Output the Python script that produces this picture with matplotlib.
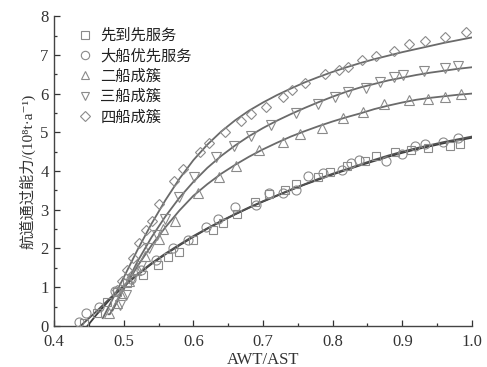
import matplotlib
matplotlib.use('Agg')
import matplotlib.pyplot as plt
from matplotlib.lines import Line2D
from matplotlib.ticker import MultipleLocator, FormatStrFormatter

plt.rcParams['font.family'] = ['Liberation Serif', 'DejaVu Serif', 'Noto Sans CJK SC']

names = ['先到先服务', '大船优先服务', '二船成簇', '三船成簇', '四船成簇']
markers = ['s', 'o', '^', 'v', 'D']

# 散点
sq_x = [0.443, 0.462, 0.476, 0.490, 0.505, 0.527, 0.549, 0.563, 0.580, 0.600, 0.628, 0.642, 0.662, 0.688,
        0.708, 0.731, 0.748, 0.779, 0.796, 0.820, 0.846, 0.863, 0.890, 0.913, 0.937, 0.968, 0.983]
sq_y = [0.07, 0.33, 0.62, 0.88, 1.10, 1.32, 1.57, 1.77, 1.92, 2.22, 2.47, 2.65, 2.90, 3.20,
        3.40, 3.52, 3.66, 3.85, 3.98, 4.13, 4.26, 4.39, 4.49, 4.55, 4.60, 4.64, 4.71]
ci_x = [0.436, 0.446, 0.465, 0.488, 0.510, 0.525, 0.546, 0.571, 0.592, 0.618, 0.635, 0.660, 0.690, 0.709,
        0.729, 0.748, 0.765, 0.786, 0.813, 0.827, 0.838, 0.876, 0.899, 0.919, 0.933, 0.958, 0.980]
ci_y = [0.09, 0.33, 0.50, 0.90, 1.20, 1.45, 1.70, 2.00, 2.23, 2.56, 2.75, 3.07, 3.12, 3.42,
        3.42, 3.52, 3.86, 3.96, 4.02, 4.21, 4.29, 4.26, 4.45, 4.65, 4.69, 4.75, 4.84]
tu_x = [0.479, 0.490, 0.498, 0.508, 0.518, 0.530, 0.551, 0.557, 0.574, 0.606, 0.637, 0.661, 0.695, 0.729,
        0.753, 0.785, 0.815, 0.844, 0.874, 0.909, 0.937, 0.962, 0.985]
tu_y = [0.33, 0.60, 0.85, 1.15, 1.45, 1.80, 2.25, 2.50, 2.72, 3.42, 3.85, 4.12, 4.54, 4.75,
        4.95, 5.12, 5.38, 5.53, 5.72, 5.84, 5.87, 5.91, 6.00]
td_x = [0.494, 0.503, 0.512, 0.525, 0.537, 0.548, 0.560, 0.579, 0.601, 0.633, 0.659, 0.683, 0.712, 0.748,
        0.779, 0.803, 0.822, 0.848, 0.868, 0.888, 0.901, 0.931, 0.961, 0.980]
td_y = [0.54, 0.80, 1.20, 1.55, 2.00, 2.35, 2.75, 3.33, 3.85, 4.37, 4.64, 4.90, 5.18, 5.50,
        5.74, 5.90, 6.05, 6.15, 6.31, 6.44, 6.49, 6.58, 6.66, 6.71]
di_x = [0.490, 0.497, 0.505, 0.513, 0.522, 0.532, 0.540, 0.551, 0.572, 0.585, 0.609, 0.623, 0.646, 0.668,
        0.683, 0.705, 0.729, 0.742, 0.761, 0.789, 0.809, 0.822, 0.842, 0.863, 0.888, 0.909, 0.932, 0.961, 0.991]
di_y = [0.93, 1.15, 1.45, 1.75, 2.13, 2.48, 2.72, 3.15, 3.74, 4.06, 4.49, 4.72, 5.01, 5.30,
        5.48, 5.66, 5.91, 6.10, 6.28, 6.51, 6.62, 6.69, 6.87, 6.98, 7.11, 7.27, 7.37, 7.47, 7.58]

# 拟合曲线
grid = [0.46, 0.48, 0.50, 0.52, 0.54, 0.56, 0.58, 0.60, 0.62, 0.64, 0.66, 0.68, 0.70, 0.72, 0.74,
        0.76, 0.78, 0.80, 0.82, 0.84, 0.86, 0.88, 0.90, 0.92, 0.94, 0.96, 0.98, 1.00]
sq_fit = [0.27, 0.68, 1.02, 1.32, 1.60, 1.85, 2.08, 2.30, 2.51, 2.70, 2.88, 3.05, 3.21, 3.36, 3.51,
          3.65, 3.78, 3.91, 4.03, 4.15, 4.26, 4.37, 4.47, 4.56, 4.64, 4.72, 4.79, 4.86]
ci_fit = [0.36, 0.71, 1.04, 1.34, 1.62, 1.87, 2.10, 2.32, 2.52, 2.71, 2.89, 3.06, 3.22, 3.37, 3.52,
          3.66, 3.80, 3.93, 4.05, 4.17, 4.29, 4.40, 4.50, 4.59, 4.67, 4.75, 4.82, 4.89]
tu_fit = [None, 0.30, 0.95, 1.55, 2.08, 2.55, 2.98, 3.36, 3.66, 3.93, 4.16, 4.37, 4.56, 4.73, 4.89,
          5.03, 5.16, 5.28, 5.39, 5.49, 5.60, 5.69, 5.77, 5.84, 5.89, 5.93, 5.97, 6.00]
td_fit = [None, None, 0.95, 1.67, 2.29, 2.83, 3.31, 3.72, 4.08, 4.39, 4.66, 4.90, 5.11, 5.30, 5.47,
          5.63, 5.78, 5.92, 6.05, 6.16, 6.25, 6.34, 6.41, 6.48, 6.54, 6.59, 6.64, 6.68]
di_fit = [None, 0.55, 1.25, 1.97, 2.64, 3.25, 3.80, 4.28, 4.68, 5.02, 5.31, 5.56, 5.77, 5.96, 6.13,
          6.29, 6.43, 6.56, 6.68, 6.79, 6.89, 6.98, 7.07, 7.15, 7.23, 7.31, 7.38, 7.45]
start_x = [0.448, 0.438, 0.478, 0.484, 0.470]
start_y = [0.0, 0.0, 0.30, 0.40, 0.20]

fig = plt.figure(figsize=(4.87, 3.67), dpi=100)
ax = fig.add_axes([0.111, 0.112, 0.858, 0.844])

pts = [(sq_x, sq_y), (ci_x, ci_y), (tu_x, tu_y), (td_x, td_y), (di_x, di_y)]
fits = [sq_fit, ci_fit, tu_fit, td_fit, di_fit]
line_cols = ['#3c3c3c', '#505050', '#6a6a6a', '#6a6a6a', '#6a6a6a']

for i in range(5):
    gx = [start_x[i]] + [g for g, v in zip(grid, fits[i]) if v is not None and g > start_x[i]]
    gy = [start_y[i]] + [v for g, v in zip(grid, fits[i]) if v is not None and g > start_x[i]]
    ax.plot(gx, gy, color=line_cols[i], lw=1.3, zorder=2)
    ms = 6.5
    if markers[i] == 'D':
        ms = 5.5
    elif markers[i] == 's':
        ms = 6
    ax.plot(pts[i][0], pts[i][1], ls='none', marker=markers[i], ms=ms, mfc='none',
            mec='#8a8a8a', mew=0.8, zorder=3)

handles = [Line2D([], [], ls='none', marker=m, ms=(5 if m == 'D' else 6), mfc='none',
                  mec='#8a8a8a', mew=0.8) for m in markers]
leg = ax.legend(handles, names, loc='upper left', bbox_to_anchor=(0.045, 0.985), frameon=False,
                handlelength=0.8, handletextpad=0.6, labelspacing=0.22, borderaxespad=0,
                prop={'family': ['Noto Sans CJK SC'], 'size': 11})
for t in leg.get_texts():
    t.set_color('#222222')

ax.set_xlim(0.4, 1.0)
ax.set_ylim(0, 8)
ax.xaxis.set_major_locator(MultipleLocator(0.1))
ax.xaxis.set_minor_locator(MultipleLocator(0.05))
ax.yaxis.set_major_locator(MultipleLocator(1))
ax.yaxis.set_minor_locator(MultipleLocator(0.5))
ax.xaxis.set_major_formatter(FormatStrFormatter('%.1f'))
ax.tick_params(which='both', direction='in', labelsize=12, colors='#333333')
ax.tick_params(which='major', length=4, width=0.9)
ax.tick_params(which='minor', length=2.5, width=0.9)
ax.tick_params(axis='x', which='major', pad=6)
ax.tick_params(axis='y', which='major', pad=4)
ax.spines['top'].set_visible(False)
ax.spines['right'].set_visible(False)
for s in ['left', 'bottom']:
    ax.spines[s].set_color('#444444')
    ax.spines[s].set_linewidth(1.0)

ax.set_xlabel('AWT/AST', fontsize=12, color='#333333', labelpad=1)
ax.set_ylabel('航道通过能力/(10⁸t·a⁻¹)', fontsize=11, color='#333333', labelpad=3,
              family=['Liberation Serif', 'DejaVu Serif', 'Noto Sans CJK SC'])

fig.savefig('out.png', dpi=100)
